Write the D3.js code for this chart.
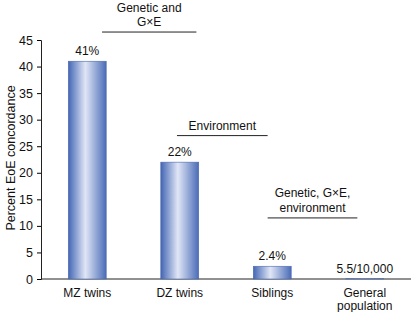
<!DOCTYPE html>
<html>
<head>
<meta charset="utf-8">
<script src="https://cdn.jsdelivr.net/npm/d3@7"></script>
<style>
  body { margin: 0; background: #fff; }
  text { font-family: "Liberation Sans", Arial, sans-serif; fill: #111; }
</style>
</head>
<body>
<div id="chart"></div>
<script>
// Data ////////////////////////////////////////////////////////////////
var groups = ["MZ twins", "DZ twins", "Siblings", "General population"];
var groupLines = [["MZ twins"], ["DZ twins"], ["Siblings"], ["General", "population"]];
var concordance = [41, 22, 2.4, 0.055];
var valueLabels = ["41%", "22%", "2.4%", "5.5/10,000"];
var yTicks = [0, 5, 10, 15, 20, 25, 30, 35, 40, 45];

// annotation brackets, span given in category-index units
var bracketText = [["Genetic and", "G\u00d7E"], ["Environment"], ["Genetic, G\u00d7E,", "environment"]];
var bracketSpan = [[0.16, 1.18], [0.97, 1.95], [1.95, 2.92]];
var bracketLevel = [46.5, 27, 11.5];   // height of the bracket line in axis units

// Setup ///////////////////////////////////////////////////////////////
var W = 414, H = 312;
var margin = {top: 40, right: 3, bottom: 33, left: 41},
    width = W - margin.left - margin.right,
    height = H - margin.top - margin.bottom;

var svg = d3.select("#chart").append("svg")
    .attr("width", W)
    .attr("height", H);

var defs = svg.append("defs");
var grad = defs.append("linearGradient")
    .attr("id", "barGrad")
    .attr("x1", "0%").attr("x2", "100%").attr("y1", "0%").attr("y2", "0%");
grad.append("stop").attr("offset", "0%").attr("stop-color", "#4366b4");
grad.append("stop").attr("offset", "45%").attr("stop-color", "#e0e6f6");
grad.append("stop").attr("offset", "100%").attr("stop-color", "#4a6cb7");

var g = svg.append("g")
    .attr("transform", "translate(" + margin.left + "," + margin.top + ")");

// Scales //////////////////////////////////////////////////////////////
var x = d3.scaleBand()
    .domain(groups)
    .range([0, width])
    .paddingInner(0.59)
    .paddingOuter(0.295);

var y = d3.scaleLinear()
    .domain([0, 45])
    .range([height, 0]);

// centre of category i (fractional i allowed)
function cx(i) { return x(groups[0]) + x.bandwidth() / 2 + i * x.step(); }

// Axes ////////////////////////////////////////////////////////////////
var yAxis = g.append("g")
    .call(d3.axisLeft(y).tickValues(yTicks).tickSize(4).tickPadding(4));
yAxis.selectAll("text").style("font-size", "12.5px");
yAxis.select(".domain").attr("stroke", "#222");

g.append("line")
    .attr("x1", 0).attr("x2", width)
    .attr("y1", height).attr("y2", height)
    .attr("stroke", "#222");

// y title
svg.append("text")
    .attr("transform", "rotate(-90)")
    .attr("x", -158)
    .attr("y", 15)
    .style("text-anchor", "middle")
    .style("font-size", "12.5px")
    .text("Percent EoE concordance");

// Bars ////////////////////////////////////////////////////////////////
g.selectAll(".bar")
    .data(groups)
  .enter().append("rect")
    .attr("class", "bar")
    .attr("x", function(d) { return x(d); })
    .attr("width", x.bandwidth())
    .attr("y", function(d, i) { return y(concordance[i]); })
    .attr("height", function(d, i) { return height - y(concordance[i]); })
    .style("fill", "url(#barGrad)")
    .style("stroke", "#4a69ad")
    .style("stroke-width", 0.6);

// value labels
g.selectAll(".val")
    .data(groups)
  .enter().append("text")
    .attr("class", "val")
    .attr("x", function(d) { return x(d) + x.bandwidth() / 2; })
    .attr("y", function(d, i) { return y(concordance[i]) - 6; })
    .style("text-anchor", "middle")
    .style("font-size", "12px")
    .text(function(d, i) { return valueLabels[i]; });

// category labels
groupLines.forEach(function(lines, i) {
  var t = g.append("text")
      .attr("x", cx(i))
      .attr("y", height + 18)
      .style("text-anchor", "middle")
      .style("font-size", "12px");
  lines.forEach(function(s, j) {
    t.append("tspan")
      .attr("x", cx(i))
      .attr("dy", j === 0 ? 0 : 13)
      .text(s);
  });
});

// Brackets ////////////////////////////////////////////////////////////
bracketText.forEach(function(lines, i) {
  var x1 = cx(bracketSpan[i][0]);
  var x2 = cx(bracketSpan[i][1]);
  var ly = y(bracketLevel[i]);
  g.append("line")
    .attr("x1", x1).attr("x2", x2)
    .attr("y1", ly).attr("y2", ly)
    .attr("stroke", "#222")
    .attr("stroke-width", 1);
  var n = lines.length;
  lines.forEach(function(s, j) {
    g.append("text")
      .attr("x", (x1 + x2) / 2)
      .attr("y", ly - 6 - (n - 1 - j) * 14.5)
      .style("text-anchor", "middle")
      .style("font-size", "12px")
      .text(s);
  });
});
</script>
</body>
</html>
